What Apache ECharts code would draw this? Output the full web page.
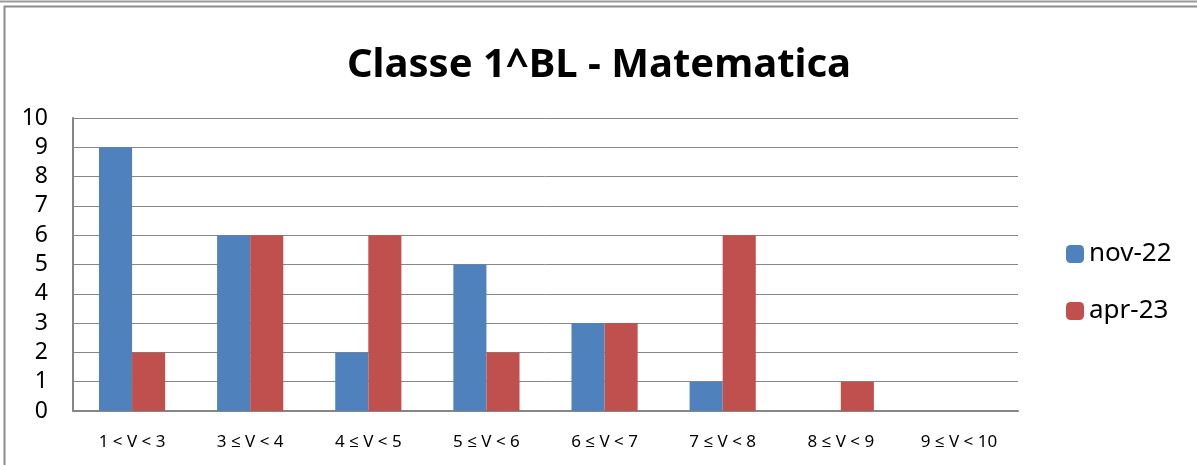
<!DOCTYPE html>
<html>
<head>
<meta charset="utf-8">
<script src="https://cdn.jsdelivr.net/npm/echarts@6/dist/echarts.min.js"></script>
<style>
  html, body { margin: 0; padding: 0; background: #fff; }
  #chart { width: 1197px; height: 465px; }
</style>
</head>
<body>
<div id="chart"></div>
<script>
// dati
const categories = ['1 < V < 3', '3 ≤ V < 4', '4 ≤ V < 5', '5 ≤ V < 6', '6 ≤ V < 7', '7 ≤ V < 8', '8 ≤ V < 9', '9 ≤ V < 10'];
const nov22 = [9, 6, 2, 5, 3, 1, 0, 0];
const apr23 = [2, 6, 6, 2, 3, 6, 1, 0];
const yTicks = [0, 1, 2, 3, 4, 5, 6, 7, 8, 9, 10];

const font = '"Noto Sans", "Open Sans", sans-serif';

let myChart = echarts.init(document.getElementById('chart'));
myChart.setOption({
    animation: false,
    backgroundColor: '#fff',
    title: {
        text: 'Classe 1^BL - Matematica',
        left: 594,
        textAlign: 'center',
        top: 41,
        textStyle: { fontFamily: font, fontSize: 40, fontWeight: 'bold', color: '#000' }
    },
    // cornice del grafico
    graphic: [
        { type: 'line', shape: { x1: 0, y1: 1.5, x2: 1197, y2: 1.5 }, style: { stroke: '#999', lineWidth: 2 } },
        { type: 'rect', shape: { x: 4.5, y: 6.5, width: 1300, height: 600 }, style: { fill: null, stroke: '#8c8c8c', lineWidth: 2 } }
    ],
    legend: {
        orient: 'vertical',
        left: 1061,
        top: 236,
        itemWidth: 18,
        itemHeight: 18,
        itemGap: 31,
        textStyle: { fontFamily: font, fontSize: 26, color: '#000' },
        data: ['nov-22', 'apr-23']
    },
    grid: { left: 73, right: 179, top: 118, bottom: 54, containLabel: false },
    xAxis: {
        type: 'category',
        data: categories,
        axisLine: { show: true, lineStyle: { color: '#868686', width: 2 } },
        axisTick: { show: false },
        axisLabel: { fontFamily: font, fontSize: 17, color: '#000', margin: 23 }
    },
    yAxis: {
        type: 'value',
        min: 0,
        max: yTicks[yTicks.length - 1],
        interval: 1,
        axisLine: { show: true, lineStyle: { color: '#868686', width: 2 } },
        axisTick: { show: false },
        splitLine: { show: true, lineStyle: { color: '#878787', width: 1 } },
        axisLabel: { fontFamily: font, fontSize: 23, color: '#000', margin: 25 }
    },
    series: [
        {
            name: 'nov-22',
            type: 'bar',
            data: nov22,
            barGap: '0%',
            barCategoryGap: '44%',
            itemStyle: { color: '#4F81BD' }
        },
        {
            name: 'apr-23',
            type: 'bar',
            data: apr23,
            barGap: '0%',
            barCategoryGap: '44%',
            itemStyle: { color: '#C0504D' }
        }
    ]
});
</script>
</body>
</html>
